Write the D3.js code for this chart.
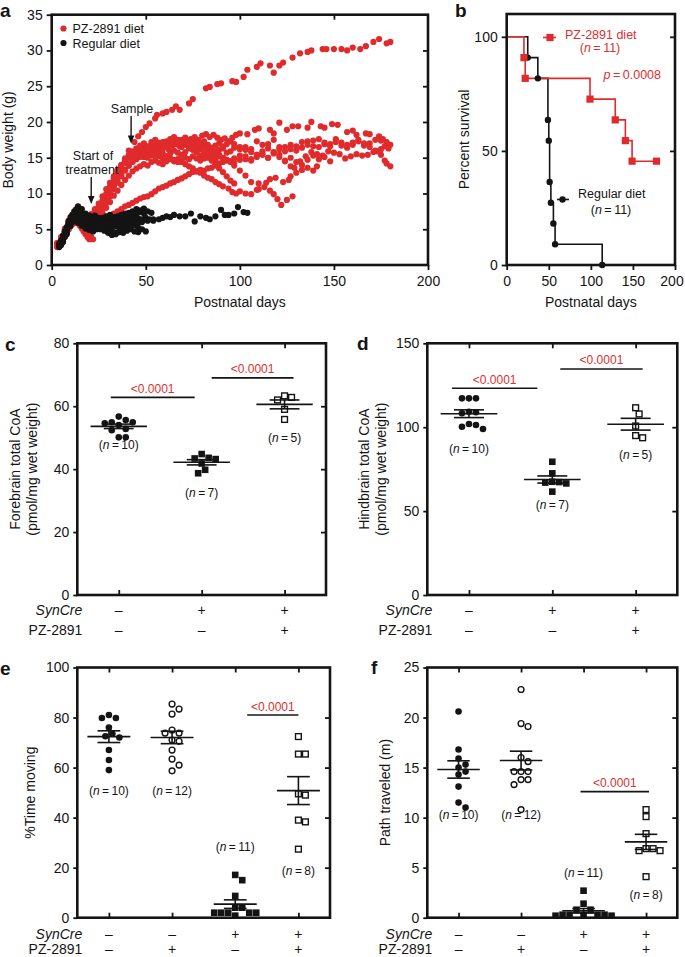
<!DOCTYPE html>
<html>
<head>
<meta charset="utf-8">
<script src="https://cdnjs.cloudflare.com/ajax/libs/d3/7.8.5/d3.min.js"></script>
<style>
	body { margin: 0; background: #fff; }
	svg text { font-family: "Liberation Sans", Arial, Helvetica, sans-serif; fill: #141414; }
</style>
</head>
<body>
<script>
//===============================================
//------------------- DATA ----------------------
//===============================================

// a : body weight, one array of [day, grams] per mouse
var pzMice = [
	[[3,2.9],[5,3.6],[7,4.6],[9,5.8],[11,6.6],[13,7.2],[15,7.0],[17,6.6],[19,6.3],[21,6.8],[23,7.2],[25,7.8],[27,8.6],[29,9.6],[31,10.4],[33,11.5],[35,12.4],[37,13.4],[39,14.6],[41,16.0],
	 [44,17.2],[46,18.0],[48,18.6],[50,19.3],[52,19.8],[55,20.5],[56,21.0],[59,21.2],[61,21.4],[64,21.7],[66,22.2],[68,21.7],[73,22.6],[75,23.2],[82,24.7],[84,24.9],[88,25.3],[90,25.4],
	 [96,25.7],[98,25.6],[102,26.3],[104,27.3],[109,27.7],[111,28.2],[116,27.9],[118,26.9],[121,27.9],[123,28.3],[128,29.0],[132,29.6],[136,29.8],[138,30.0],[144,30.2],[146,30.2],
	 [150,30.2],[154,30.2],[157,30.0],[160,30.4],[164,30.2],[167,30.6],[171,31.2],[174,31.6],[178,31.0],[180,31.2]],
	[[3,2.6],[5,3.3],[7,4.3],[9,5.4],[11,6.4],[13,6.9],[15,6.6],[17,6.1],[19,5.8],[21,6.2],[23,6.9],[25,7.6],[27,8.5],[29,9.4],[31,10.5],[33,11.6],[35,12.5],[37,13.3],[40,14.2],[42,15.0],
	 [44,15.5],[46,15.9],[48,16.1],[50,15.8],[52,16.3],[54,16.0],[56,16.4],[58,16.1],[60,16.5],[62,16.2],[64,16.7],[66,16.9],[68,16.6],[70,17.1],[72,17.3],[74,17.6],[76,17.9],[78,17.5],
	 [80,18.1],[82,18.3],[84,17.9],[86,18.2],[88,17.8],[90,17.5],[92,17.7],[94,17.3],[96,17.8],[98,18.2],[100,18.4],[104,18.3],[108,18.9],[110,19.1],[116,18.9],[118,18.4],[121,19.9],
	 [125,18.9],[128,19.4],[131,19.4],[136,19.2],[138,20.0],[143,19.4],[145,19.2],[149,19.7],[152,19.6],[157,18.6],[160,18.8],[162,18.2],[167,18.4],[169,18.3],[174,18.0],[176,17.6],[178,17.2]],
	[[3,3.1],[5,3.9],[7,5.1],[9,6.2],[11,7.0],[13,7.6],[15,7.3],[17,6.9],[19,6.4],[21,6.6],[23,7.1],[25,7.7],[27,8.3],[29,9.1],[31,10.0],[33,11.0],[35,11.8],[37,12.6],[39,13.3],[41,13.9],
	 [43,14.5],[45,14.8],[47,15.3],[49,15.1],[51,15.4],[53,15.7],[55,15.4],[57,15.9],[59,15.6],[61,15.2],[63,15.6],[65,16.0],[67,15.7],[69,15.4],[71,15.8],[73,16.3],[75,16.1],[77,15.8],
	 [79,16.2],[81,16.6],[83,16.3],[85,15.8],[87,15.6],[89,16.1],[91,16.3],[93,15.7],[95,15.9],[97,16.4],[100,16.2],[103,16.5],[106,16.2],[109,17.3],[112,16.8],[115,16.9],[118,17.5],
	 [121,16.5],[124,15.9],[127,16.2],[130,16.6],[133,17.2],[136,17.3],[139,16.6],[142,16.5],[145,17.1],[148,16.9],[151,17.6],[154,17.1],[157,16.4],[160,16.8],[163,17.3],[166,16.7],
	 [169,17.0],[172,17.5],[175,17.4],[178,17.0],[180,16.8]],
	[[3,2.5],[5,3.0],[7,4.0],[9,5.0],[11,5.9],[13,6.3],[15,6.0],[17,5.5],[19,5.2],[21,5.4],[23,6.0],[25,6.6],[27,7.3],[29,8.0],[31,8.8],[33,9.7],[35,10.4],[37,11.2],[39,11.9],[41,12.5],
	 [43,13.1],[45,13.5],[47,13.8],[49,14.1],[51,13.9],[53,14.4],[55,14.6],[57,14.3],[59,14.1],[61,14.5],[63,14.9],[65,14.7],[67,14.4],[69,14.6],[71,15.0],[73,14.8],[75,15.2],[77,14.9],
	 [79,14.6],[81,14.9],[83,15.3],[85,15.1],[87,14.8],[89,15.2],[91,15.0],[93,14.7],[95,14.5],[97,14.9],[100,15.3],[103,14.8],[106,14.6],[109,15.4],[112,15.6],[115,15.0],[118,15.8],
	 [121,15.4],[124,14.5],[127,13.8],[129,13.6],[132,14.5],[135,15.2],[138,15.8],[141,15.5],[144,15.3],[147,15.9],[150,15.7],[153,15.5],[156,14.9],[159,15.2],[162,15.5],[165,15.3],
	 [168,15.4],[171,15.8],[173,15.9],[175,15.4],[177,14.6],[178,14.2],[180,13.8]],
	[[3,2.7],[5,3.4],[7,4.4],[9,5.3],[11,6.1],[13,6.5],[15,6.2],[17,5.7],[19,5.0],[21,4.8],[23,5.2],[25,5.7],[27,6.1],[29,6.5],[31,6.9],[33,7.2],[35,7.5],[37,7.8],[39,8.2],[41,8.4],
	 [43,8.7],[45,9.0],[47,9.3],[49,9.5],[51,9.6],[53,9.9],[55,10.3],[57,10.7],[59,10.9],[61,11.1],[63,11.4],[65,11.6],[67,11.9],[69,12.1],[71,12.4],[73,12.7],[75,13.0],[77,13.1],
	 [79,13.3],[81,13.2],[83,13.5],[85,13.6],[87,13.9],[89,14.2],[91,14.4],[93,14.6],[95,14.5],[97,14.3],[100,14.7],[103,15.2],[106,14.8],[109,15.1],[112,15.4],[115,15.0],[118,15.7],
	 [121,16.2],[124,16.5],[127,16.8],[130,16.0],[133,16.4],[136,16.8],[139,17.4],[142,17.6],[145,16.9],[148,16.6],[151,17.2],[154,16.7],[157,16.8],[160,17.1],[163,17.5],[166,17.0],
	 [169,16.5],[172,16.0],[175,16.2],[177,16.6],[179,16.3]],
	[[3,3.0],[5,3.8],[7,4.9],[9,6.0],[11,6.8],[13,7.4],[15,7.1],[17,6.7],[19,6.5],[21,7.0],[23,7.8],[25,8.6],[27,9.6],[29,10.6],[31,11.5],[33,12.4],[35,13.3],[37,14.0],[39,14.7],[41,15.2],
	 [43,15.7],[45,16.0],[47,16.3],[49,16.6],[51,16.4],[53,16.8],[55,17.1],[57,16.7],[59,16.3],[61,16.6],[63,17.0],[65,17.3],[67,16.9],[69,16.5],[71,16.8],[73,17.3],[75,17.6],[77,17.2],
	 [79,16.9],[81,17.3],[83,16.8],[85,16.4],[87,16.7],[89,17.0],[91,16.6],[93,16.9],[95,17.3],[97,16.9],[100,16.5],[103,16.1],[106,15.8],[109,15.4],[112,15.9],[115,16.3],[118,15.6],
	 [121,15.1],[124,14.6],[127,15.0],[130,14.4],[133,14.0],[136,14.7],[139,15.3],[142,14.8],[145,15.1],[148,14.5]],
	[[3,2.8],[5,3.5],[7,4.7],[9,5.6],[11,6.2],[13,6.8],[15,6.5],[17,6.0],[19,5.6],[21,6.0],[23,6.8],[25,7.7],[27,8.8],[29,9.9],[31,11.0],[33,12.1],[35,13.1],[37,13.9],[39,14.5],[41,15.0],
	 [43,15.4],[45,15.8],[47,16.2],[49,16.0],[51,16.5],[53,16.8],[55,16.4],[57,16.9],[59,17.2],[61,16.8],[63,17.3],[65,17.6],[67,17.2],[69,17.5],[71,17.8],[73,17.4],[75,17.0],[77,16.6],
	 [79,16.9],[81,16.4],[83,16.0],[85,15.7],[87,15.9],[89,15.4],[91,15.0],[93,14.7],[95,14.4],[97,13.9],[100,13.2],[103,12.5],[106,11.6],[109,10.5],[110,11.4],[114,11.5],[116,12.0],
	 [119,12.2],[123,11.6],[126,11.9],[127,12.4],[130,12.9],[133,13.3],[136,13.6],[139,13.2],[141,13.8]],
	[[3,2.6],[5,3.2],[7,4.1],[9,5.2],[11,6.0],[13,6.6],[15,6.3],[17,5.9],[19,5.4],[21,5.7],[23,6.3],[25,7.0],[27,7.8],[29,8.7],[31,9.6],[33,10.6],[35,11.5],[37,12.4],[39,13.2],[41,13.9],
	 [43,14.4],[45,14.9],[47,15.1],[49,15.4],[51,15.0],[53,15.3],[55,15.6],[57,15.2],[59,14.9],[61,15.2],[63,14.8],[65,14.5],[67,14.8],[69,14.4],[71,14.1],[73,13.8],[75,13.5],[77,13.1],
	 [79,12.9],[81,12.5],[83,12.2],[85,12.0],[87,11.6],[89,11.3],[91,11.0],[94,10.7],[96,10.2],[98,10.0],[100,10.3],[103,10.0],[106,9.9],[110,10.6],[113,10.9],[116,10.4],[118,9.9],
	 [120,9.2],[122,8.4],[125,9.1],[128,9.6]],
	[[3,2.9],[5,3.7],[7,4.8],[9,5.9],[11,6.9],[13,7.8],[15,7.6],[17,7.2],[19,6.8],[21,7.1],[23,7.6],[25,8.2],[27,9.0],[29,9.8],[31,10.7],[33,11.7],[35,12.8],[37,13.8],[39,14.9],[41,15.4],
	 [43,15.9],[45,16.3],[47,16.7],[49,17.0],[51,16.6],[53,17.2],[55,17.5],[57,17.1],[59,16.8],[61,17.3],[63,17.6],[65,17.9],[67,17.5],[69,17.1],[71,16.9],[73,16.5],[75,16.2],[77,15.8],
	 [79,15.3],[81,15.6],[83,15.0],[85,14.6],[87,14.1],[89,13.5],[91,13.0],[93,12.4],[95,11.8],[97,11.4]],
	[[3,2.5],[4,2.8],[5,3.2],[6,3.6],[7,4.0],[8,4.5],[9,5.0],[10,5.4],[11,5.7],[12,5.9],[13,6.0],[14,5.8],[15,5.5],[16,5.1],[17,4.7],[18,4.3],[19,3.9],[20,3.6]],
	[[4,2.7],[5,3.0],[6,3.4],[7,3.9],[8,4.6],[9,5.3],[10,5.9],[11,6.4],[12,6.6],[13,6.4],[14,6.1],[15,5.8],[16,5.4],[17,5.0],[18,4.7],[19,4.4],[20,4.1],[21,3.9],[22,3.6]]
];

var regularMice = [
	[[5,2.8],[7,4.0],[9,5.5],[11,6.5],[13,7.0],[15,6.5],[18,6.0],[21,5.8],[24,6.0],[27,5.5],[30,5.8],[33,6.0],[36,5.6],[39,6.2],[42,6.0],[45,6.3],[48,6.0],[51,6.2],[54,6.4],[57,6.4],
	 [59,6.6],[61,6.8],[63,6.7],[65,7.0],[68,6.8],[71,6.8],[74,7.2],[76,6.1],[79,6.8],[82,6.6],[84,6.4],[87,6.8],[90,7.7],[92,7.0],[94,7.0],[97,7.2],[99,8.1],[102,7.4],[104,7.3]],
	[[4,2.6],[6,3.2],[8,4.5],[10,5.8],[12,6.6],[14,7.2],[16,6.8],[18,6.2],[20,5.6],[22,5.0]],
	[[4,2.9],[6,3.8],[8,5.2],[10,6.4],[12,7.5],[14,8.2],[16,7.8],[18,7.2],[20,6.9],[22,6.6],[24,6.2],[26,5.9],[28,5.4],[30,5.2],[32,4.8],[34,4.4]],
	[[5,3.1],[7,4.4],[9,5.8],[11,6.2],[13,6.8],[15,6.4],[17,6.1],[19,5.9],[21,6.3],[23,6.5],[25,6.2],[27,6.6],[29,6.3],[31,6.1],[33,6.4],[35,6.8],[37,6.5],[39,6.9],[41,7.1],[43,6.7],[45,6.4]],
	[[4,2.7],[6,3.5],[8,4.8],[10,6.0],[12,6.4],[14,6.1],[16,5.7],[18,5.4],[20,5.2],[22,5.5],[24,5.3],[26,5.0],[28,4.8],[30,4.6],[32,4.4],[34,4.3],[36,4.6],[38,4.5],[40,4.8],[42,5.0],[44,4.7],[46,4.6]],
	[[5,3.3],[7,4.2],[9,5.4],[11,6.5],[13,7.4],[15,7.1],[17,6.6],[19,6.3],[21,6.0],[23,5.8],[25,6.1],[27,5.9],[29,6.2],[31,6.5],[33,6.3],[35,6.7],[37,7.0],[39,6.8],[41,7.3],[43,7.5],[45,7.8],[47,7.6]],
	[[4,3.0],[6,4.1],[8,5.3],[10,6.7],[12,7.1],[14,6.9],[16,6.4],[18,5.8],[20,5.5],[22,5.1],[24,5.4],[26,5.7],[28,5.5],[30,5.3],[32,5.6],[34,5.9],[36,5.5],[38,5.8],[40,6.1],[42,5.8],[44,6.2],[46,6.5],[48,6.3]],
	[[5,2.9],[7,4.7],[9,6.1],[11,7.0],[13,7.7],[15,7.4],[17,7.0],[19,6.6],[21,6.4],[23,6.1],[25,5.9],[27,6.2],[29,6.4],[31,6.0],[33,5.8],[35,6.1],[37,6.3],[39,6.6],[41,6.4],[43,6.9],[45,7.2],[47,7.6],[49,7.9]],
	[[4,2.5],[6,3.3],[8,4.3],[10,5.5],[12,6.1],[14,5.9],[16,5.5],[18,5.1],[20,4.9],[22,4.7],[24,5.0],[26,5.2],[28,4.9],[30,4.5],[32,4.2],[34,4.5],[36,4.8],[38,5.2],[40,5.5],[42,5.3],[44,5.6],[46,5.2],[48,5.0],[50,4.7]],
	[[5,3.4],[7,4.6],[9,5.7],[11,6.3],[13,6.6],[15,6.9],[17,6.5],[19,6.2],[21,6.7],[23,6.9],[25,6.6],[27,6.4],[29,6.8],[31,7.0],[33,6.7],[35,6.5],[37,6.9],[39,7.2],[41,6.9],[43,7.2],[45,7.0],[47,7.4],[49,7.2],[51,7.5],[53,7.3]],
	[[4,2.8],[6,3.9],[8,5.0],[10,5.9],[12,6.3],[14,6.6],[16,6.2],[18,6.5],[20,6.1],[22,5.8],[24,5.6],[26,5.3],[28,5.6],[30,5.9],[32,5.7],[34,5.4],[36,5.7],[38,6.0],[40,5.7],[42,6.3],[44,6.1],[46,5.9],[48,6.4],[50,6.6],[52,6.4],[54,6.2]]
];

// b : Kaplan-Meier steps, [day, percent]
var pzSurvival = [[0,100],[20.5,90.9],[22,81.8],[99,72.7],[129,63.6],[141,54.5],[149,45.5],[178,45.5]];
var regularSurvival = [[0,100],[25,90.9],[37,81.8],[49,63.6],[50,54.5],[51,36.4],[52.5,27.3],[55.5,18.2],[57.5,9.1],[113.5,0]];

// c : forebrain total CoA (pmol/mg wet weight)
var forebrainGroups = [
	[55.6, 54.9, 54.6, 56.7, 54.0, 54.9, 52.4, 52.8, 50.1, 50.1],
	[43.6, 43.2, 44.8, 43.4, 41.8, 38.7, 39.8],
	[63.3, 62.0, 62.8, 59.0, 55.8]
];
// d : hindbrain total CoA
var hindbrainGroups = [
	[117.2, 117.2, 117.2, 108.3, 108.9, 109.2, 101.3, 98.9, 100.3, 101.9],
	[79.4, 72.5, 67.0, 67.5, 67.3, 66.5, 61.6],
	[107.9, 111.6, 100.7, 93.7, 95.0]
];
// e : % time moving
var movingGroups = [
	[79.8, 79.8, 81.0, 76.0, 72.0, 73.5, 72.5, 67.0, 63.0, 59.0],
	[83.4, 85.4, 81.4, 75.0, 73.8, 73.8, 71.0, 70.5, 67.0, 63.4, 61.0, 58.7],
	[17.1, 15.0, 8.7, 4.0, 4.0, 2.0, 2.0, 2.0, 2.0, 2.0, 0.8],
	[72.4, 65.4, 65.4, 49.0, 49.5, 39.0, 38.3, 27.4]
];
// f : path traveled (m)
var pathGroups = [
	[20.6, 16.8, 15.9, 15.3, 15.0, 14.6, 14.3, 13.1, 11.5, 11.0],
	[22.8, 19.1, 19.4, 16.0, 15.6, 14.6, 14.6, 14.6, 13.8, 13.3, 13.8, 10.8],
	[2.7, 1.4, 0.8, 0.8, 0.3, 0.3, 0.3, 0.3, 0.3, 0.2, 0.2],
	[10.8, 10.1, 8.4, 6.9, 6.7, 6.7, 6.9, 4.1]
];

var synCre3 = ['–', '+', '+'];
var pz3 = ['–', '–', '+'];
var synCre4 = ['–', '–', '+', '+'];
var pz4 = ['–', '+', '–', '+'];

var forebrainSig = [{from: 0, to: 1, y: 62.8, p: '<0.0001'}, {from: 1, to: 2, y: 69, p: '<0.0001'}];
var hindbrainSig = [{from: 0, to: 1, y: 123.2, p: '<0.0001'}, {from: 1, to: 2, y: 134.7, p: '<0.0001'}];
var movingSig = [{from: 2, to: 3, y: 81, p: '<0.0001'}];
var pathSig = [{from: 2, to: 3, y: 12.6, p: '<0.0001'}];

//===============================================
//------------------ DRAWING --------------------
//===============================================
var RED = '#e02a2c';
var RED_TEXT = '#d8312f';
var INK = '#141414';

var svg = d3.select('body').append('svg')
	.attr('width', 685)
	.attr('height', 957);

function frame(box) {
	svg.append('rect')
		.attr('x', box.left).attr('y', box.top)
		.attr('width', box.right - box.left).attr('height', box.bottom - box.top)
		.attr('fill', 'none').attr('stroke', INK).attr('stroke-width', 2.6);
}

function styleAxis(g) {
	g.select('.domain').remove();
	g.selectAll('line').attr('stroke', INK).attr('stroke-width', 1.8);
	g.selectAll('text').attr('font-size', 14).style('fill', INK);
}

function letter(t, x, y) {
	svg.append('text').attr('x', x).attr('y', y)
		.attr('font-size', 19).attr('font-weight', 'bold').text(t);
}

function yTitle(lines, xs, cy, size) {
	lines.forEach(function (s, i) {
		svg.append('text')
			.attr('transform', 'translate(' + xs[i] + ',' + cy + ') rotate(-90)')
			.attr('text-anchor', 'middle').attr('font-size', size || 14).text(s);
	});
}

function arrowDown(x, y1, y2) {
	svg.append('line').attr('x1', x).attr('x2', x).attr('y1', y1).attr('y2', y2 - 6)
		.attr('stroke', INK).attr('stroke-width', 1.4);
	svg.append('path')
		.attr('d', 'M' + (x - 3.3) + ',' + (y2 - 8) + 'L' + (x + 3.3) + ',' + (y2 - 8) + 'L' + x + ',' + y2 + 'Z')
		.attr('fill', INK);
}

function marker(g, shape, x, y) {
	if (shape == 'dot' || shape == 'ring') {
		g.append('circle').attr('cx', x).attr('cy', y)
			.attr('r', shape == 'dot' ? 3.3 : 2.9)
			.attr('fill', shape == 'dot' ? INK : '#fff')
			.attr('stroke', shape == 'dot' ? 'none' : INK)
			.attr('stroke-width', 1.4);
	} else {
		var s = shape == 'square' ? 6.6 : 5.8;
		g.append('rect').attr('x', x - s / 2).attr('y', y - s / 2)
			.attr('width', s).attr('height', s)
			.attr('fill', shape == 'square' ? INK : '#fff')
			.attr('stroke', shape == 'square' ? 'none' : INK)
			.attr('stroke-width', 1.4);
	}
}

//------------------ panel a --------------------
(function () {
	var box = {left: 51.7, right: 428, top: 14.7, bottom: 265};
	var x = d3.scaleLinear().domain([0, 200]).range([box.left, box.right]);
	var y = d3.scaleLinear().domain([0, 35]).range([box.bottom, box.top]);

	var dots = svg.append('g');
	pzMice.forEach(function (m) {
		dots.selectAll(null).data(m).enter().append('circle')
			.attr('cx', function (d) { return x(d[0]); })
			.attr('cy', function (d) { return y(d[1]); })
			.attr('r', 3.1).attr('fill', RED);
	});
	regularMice.forEach(function (m) {
		dots.selectAll(null).data(m).enter().append('circle')
			.attr('cx', function (d) { return x(d[0]); })
			.attr('cy', function (d) { return y(d[1]); })
			.attr('r', 3.1).attr('fill', INK);
	});

	frame(box);
	svg.append('g').attr('transform', 'translate(' + box.left + ',0)')
		.call(d3.axisLeft(y).tickValues(d3.range(0, 36, 5)).tickSize(5).tickPadding(4)).call(styleAxis);
	svg.append('g').attr('transform', 'translate(0,' + box.bottom + ')')
		.call(d3.axisBottom(x).tickValues([0, 50, 100, 150, 200]).tickSize(5).tickPadding(6)).call(styleAxis);
	svg.append('g').attr('transform', 'translate(' + box.right + ',0)')
		.call(d3.axisRight(y).tickValues(d3.range(5, 35, 5)).tickSize(-5).tickFormat('')).call(styleAxis);
	svg.append('g').attr('transform', 'translate(0,' + box.top + ')')
		.call(d3.axisTop(x).tickValues([50, 100, 150]).tickSize(-5).tickFormat('')).call(styleAxis);

	svg.append('text').attr('x', (box.left + box.right) / 2).attr('y', 306.5)
		.attr('text-anchor', 'middle').attr('font-size', 14).text('Postnatal days');
	yTitle(['Body weight (g)'], [13], (box.top + box.bottom) / 2);

	// legend
	svg.append('circle').attr('cx', 63.5).attr('cy', 28.5).attr('r', 3.1).attr('fill', RED);
	svg.append('text').attr('x', 72.5).attr('y', 33).attr('font-size', 12.5).text('PZ-2891 diet');
	svg.append('circle').attr('cx', 63.5).attr('cy', 43).attr('r', 3.1).attr('fill', INK);
	svg.append('text').attr('x', 72.5).attr('y', 47.5).attr('font-size', 12.5).text('Regular diet');

	// annotations
	svg.append('text').attr('x', 132).attr('y', 112.5).attr('text-anchor', 'middle').attr('font-size', 12.5).text('Sample');
	arrowDown(x(42.2), 116, 143.5);
	svg.append('text').attr('x', 93).attr('y', 160).attr('text-anchor', 'middle').attr('font-size', 12.5).text('Start of');
	svg.append('text').attr('x', 92).attr('y', 173.5).attr('text-anchor', 'middle').attr('font-size', 12.5).text('treatment');
	arrowDown(x(21), 177, 204);

	letter('a', 0, 17);
})();

//------------------ panel b --------------------
(function () {
	var box = {left: 506.7, right: 675, top: 14, bottom: 265};
	var x = d3.scaleLinear().domain([0, 200]).range([box.left, box.right]);
	var y = d3.scaleLinear().domain([0, 110]).range([box.bottom, box.top]);
	var line = d3.line()
		.x(function (d) { return x(d[0]); })
		.y(function (d) { return y(d[1]); })
		.curve(d3.curveStepAfter);

	svg.append('path').datum(regularSurvival).attr('d', line)
		.attr('fill', 'none').attr('stroke', INK).attr('stroke-width', 1.6);
	svg.append('path').datum(pzSurvival).attr('d', line)
		.attr('fill', 'none').attr('stroke', RED).attr('stroke-width', 1.6);

	svg.selectAll(null).data(regularSurvival.slice(1)).enter().append('circle')
		.attr('cx', function (d) { return x(d[0]); })
		.attr('cy', function (d) { return y(d[1]); })
		.attr('r', 3.2).attr('fill', INK);
	svg.selectAll(null).data(pzSurvival.slice(1)).enter().append('rect')
		.attr('x', function (d) { return x(d[0]) - 3.6; })
		.attr('y', function (d) { return y(d[1]) - 3.6; })
		.attr('width', 7.2).attr('height', 7.2).attr('fill', RED);

	frame(box);
	svg.append('g').attr('transform', 'translate(' + box.left + ',0)')
		.call(d3.axisLeft(y).tickValues([0, 50, 100]).tickSize(5).tickPadding(4)).call(styleAxis);
	var bx = svg.append('g').attr('transform', 'translate(0,' + box.bottom + ')')
		.call(d3.axisBottom(x).tickValues([0, 50, 100, 150, 200]).tickSize(5).tickPadding(6)).call(styleAxis);
	// keep the last label inside the page edge
	bx.selectAll('text').filter(function (d) { return d == 200; }).attr('dx', -3.5);
	svg.append('g').attr('transform', 'translate(' + box.right + ',0)')
		.call(d3.axisRight(y).tickValues([50, 100]).tickSize(-5).tickFormat('')).call(styleAxis);

	svg.append('text').attr('x', (box.left + box.right) / 2).attr('y', 306.5)
		.attr('text-anchor', 'middle').attr('font-size', 14).text('Postnatal days');
	yTitle(['Percent survival'], [469], (box.top + box.bottom) / 2);

	// legend
	svg.append('line').attr('x1', 543).attr('x2', 556).attr('y1', 37.5).attr('y2', 37.5)
		.attr('stroke', RED).attr('stroke-width', 1.6);
	svg.append('rect').attr('x', 546.4).attr('y', 33.9).attr('width', 7.2).attr('height', 7.2).attr('fill', RED);
	svg.append('text').attr('x', 565).attr('y', 38.5).attr('font-size', 12.5).style('fill', RED_TEXT).text('PZ-2891 diet');
	var n1 = svg.append('text').attr('x', 600).attr('y', 52).attr('text-anchor', 'middle').attr('font-size', 12.5).style('fill', RED_TEXT);
	n1.append('tspan').text('(');
	n1.append('tspan').attr('font-style', 'italic').text('n');
	n1.append('tspan').text('\u2009=\u200911)');
	var pv = svg.append('text').attr('x', 661).attr('y', 79).attr('text-anchor', 'end').attr('font-size', 12.5).style('fill', RED_TEXT);
	pv.append('tspan').attr('font-style', 'italic').text('p');
	pv.append('tspan').text('\u2009=\u20090.0008');

	svg.append('line').attr('x1', 557).attr('x2', 569).attr('y1', 199.5).attr('y2', 199.5)
		.attr('stroke', INK).attr('stroke-width', 1.6);
	svg.append('circle').attr('cx', 562.5).attr('cy', 199.5).attr('r', 3.2).attr('fill', INK);
	svg.append('text').attr('x', 578).attr('y', 197.5).attr('font-size', 12.5).text('Regular diet');
	var n2 = svg.append('text').attr('x', 611).attr('y', 214).attr('text-anchor', 'middle').attr('font-size', 12.5);
	n2.append('tspan').text('(');
	n2.append('tspan').attr('font-style', 'italic').text('n');
	n2.append('tspan').text('\u2009=\u200911)');

	letter('b', 455, 17);
})();

//---------------- dot plots c-f ----------------
// place points of one group side by side when they would overlap
function swarm(vals, y, cx, gap) {
	var placed = [];
	var out = new Array(vals.length);
	var cand = [0];
	for (var k = 1; k <= 14; k++) { cand.push(k * gap / 2, -k * gap / 2); }
	d3.range(vals.length).sort(function (a, b) { return vals[b] - vals[a]; }).forEach(function (i) {
		var py = y(vals[i]);
		for (var c = 0; c < cand.length; c++) {
			var px = cx + cand[c];
			var free = placed.every(function (p) { return Math.hypot(p[0] - px, p[1] - py) >= gap - 0.01; });
			if (free) { placed.push([px, py]); out[i] = [px, py]; break; }
		}
	});
	return out;
}

function dotPanel(cfg) {
	var box = cfg.box;
	var x = d3.scalePoint().domain(d3.range(cfg.groups.length)).range([box.left, box.right]).padding(0.5);
	var y = d3.scaleLinear().domain([0, cfg.yMax]).range([box.bottom, box.top]);
	var step = x.step();
	var g = svg.append('g');

	cfg.groups.forEach(function (vals, i) {
		var cx = x(i);
		swarm(vals, y, cx, 7).forEach(function (p) { marker(g, cfg.shapes[i], p[0], p[1]); });

		var m = d3.mean(vals);
		var sem = d3.deviation(vals) / Math.sqrt(vals.length);
		var hw = 0.34 * step, ew = 0.18 * step;
		var lines = [
			[cx - hw, y(m), cx + hw, y(m)],
			[cx - ew, y(m + sem), cx + ew, y(m + sem)],
			[cx - ew, y(m - sem), cx + ew, y(m - sem)],
			[cx, y(m + sem), cx, y(m - sem)]
		];
		g.selectAll(null).data(lines).enter().append('line')
			.attr('x1', function (d) { return d[0]; }).attr('y1', function (d) { return d[1]; })
			.attr('x2', function (d) { return d[2]; }).attr('y2', function (d) { return d[3]; })
			.attr('stroke', INK).attr('stroke-width', 1.6);

		var t = svg.append('text').attr('x', cx).attr('y', y(cfg.nY[i]))
			.attr('text-anchor', 'middle').attr('font-size', 12);
		t.append('tspan').text('(');
		t.append('tspan').attr('font-style', 'italic').text('n');
		t.append('tspan').text('\u2009=\u2009' + vals.length + ')');
	});

	cfg.sig.forEach(function (s, k) {
		var x1 = x(s.from) + cfg.sigOff[k][0];
		var x2 = x(s.to) + cfg.sigOff[k][1];
		svg.append('line').attr('x1', x1).attr('x2', x2).attr('y1', y(s.y)).attr('y2', y(s.y))
			.attr('stroke', INK).attr('stroke-width', 1.6);
		svg.append('text').attr('x', (x1 + x2) / 2).attr('y', y(s.y) - 4.5)
			.attr('text-anchor', 'middle').attr('font-size', 12).style('fill', RED_TEXT).text(s.p);
	});

	frame(box);
	var idx = d3.range(cfg.groups.length);
	svg.append('g').attr('transform', 'translate(' + box.left + ',0)')
		.call(d3.axisLeft(y).tickValues(cfg.yTicks).tickSize(4).tickPadding(4)).call(styleAxis);
	svg.append('g').attr('transform', 'translate(' + box.right + ',0)')
		.call(d3.axisRight(y).tickValues(cfg.yTicks.slice(1, -1)).tickSize(-5).tickFormat('')).call(styleAxis);
	svg.append('g').attr('transform', 'translate(0,' + box.top + ')')
		.call(d3.axisTop(x).tickValues(idx).tickSize(-5).tickFormat('')).call(styleAxis);
	svg.append('g').attr('transform', 'translate(0,' + box.bottom + ')')
		.call(d3.axisBottom(x).tickValues(idx).tickSize(-5).tickFormat('')).call(styleAxis);

	cfg.rows.forEach(function (r, k) {
		svg.append('text').attr('x', box.left + 5).attr('y', cfg.rowY[k])
			.attr('text-anchor', 'end').attr('font-size', 14)
			.attr('font-style', r.italic ? 'italic' : 'normal').text(r.label);
		svg.selectAll(null).data(r.signs).enter().append('text')
			.attr('x', function (d, i) { return x(i); })
			.attr('y', cfg.rowY[k])
			.attr('text-anchor', 'middle').attr('font-size', 14)
			.text(function (d) { return d; });
	});

	yTitle(cfg.title, cfg.titleX, (box.top + box.bottom) / 2);
	letter(cfg.letter[0], cfg.letter[1], cfg.letter[2]);
}

dotPanel({
	box: {left: 77.3, right: 326, top: 343.3, bottom: 595},
	yMax: 80, yTicks: [0, 20, 40, 60, 80],
	groups: forebrainGroups, shapes: ['dot', 'square', 'box'],
	nY: [46.4, 31.2, 48.5],
	sig: forebrainSig, sigOff: [[-8, -7], [10, 9]],
	rows: [{label: 'SynCre', italic: true, signs: synCre3}, {label: 'PZ-2891', signs: pz3}],
	rowY: [615, 634.5],
	title: ['Forebrain total CoA', '(pmol/mg wet weight)'], titleX: [20, 36.5],
	letter: ['c', 5, 351]
});

dotPanel({
	box: {left: 427.3, right: 677.3, top: 343.3, bottom: 595},
	yMax: 150, yTicks: [0, 50, 100, 150],
	groups: hindbrainGroups, shapes: ['dot', 'square', 'box'],
	nY: [84.9, 51.3, 81],
	sig: hindbrainSig, sigOff: [[-17, -15], [8, 7]],
	rows: [{label: 'SynCre', italic: true, signs: synCre3}, {label: 'PZ-2891', signs: pz3}],
	rowY: [615, 634.5],
	title: ['Hindbrain total CoA', '(pmol/mg wet weight)'], titleX: [369, 385.5],
	letter: ['d', 357, 350]
});

dotPanel({
	box: {left: 77.3, right: 330, top: 667.5, bottom: 917.7},
	yMax: 100, yTicks: [0, 20, 40, 60, 80, 100],
	groups: movingGroups, shapes: ['dot', 'ring', 'square', 'box'],
	nY: [49.1, 49.1, 26.7, 17.1],
	sig: movingSig, sigOff: [[12, 0]],
	rows: [{label: 'SynCre', italic: true, signs: synCre4}, {label: 'PZ-2891', signs: pz4}],
	rowY: [938.5, 954],
	title: ['%Time moving'], titleX: [35],
	letter: ['e', 0, 675]
});

dotPanel({
	box: {left: 427.3, right: 677.3, top: 667.5, bottom: 917.7},
	yMax: 25, yTicks: [0, 5, 10, 15, 20, 25],
	groups: pathGroups, shapes: ['dot', 'ring', 'square', 'box'],
	nY: [9.9, 9.9, 4.1, 1.9],
	sig: pathSig, sigOff: [[-3, 3]],
	rows: [{label: 'SynCre', italic: true, signs: synCre4}, {label: 'PZ-2891', signs: pz4}],
	rowY: [938.5, 954],
	title: ['Path traveled (m)'], titleX: [390],
	letter: ['f', 371, 674]
});
</script>
</body>
</html>
